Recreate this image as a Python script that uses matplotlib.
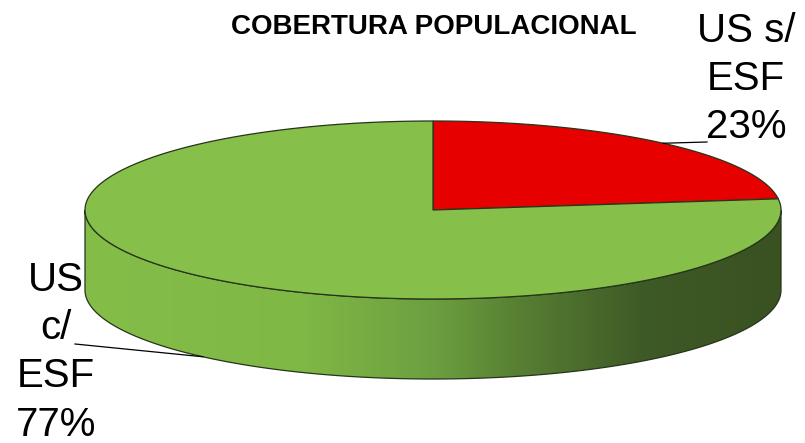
import numpy as np
import matplotlib.pyplot as plt
from matplotlib.patches import Polygon
from matplotlib.colors import LinearSegmentedColormap

# dados
titulo = "COBERTURA POPULACIONAL"
rotulos = ["US s/\nESF", "US\nc/\nESF"]
valores = [23, 77]
cores = ["#E60000", "#86BF4A"]

# geometria da pizza 3D (pixels)
cx, cy = 433, 210
rx, ry = 348, 89
prof = 80

fig = plt.figure(figsize=(8.05, 4.43), dpi=100)
ax = fig.add_axes([0, 0, 1, 1])
ax.set_xlim(0, 805)
ax.set_ylim(443, 0)
ax.axis('off')


def ponto(theta, dz=0):
    t = np.radians(theta)
    return cx + rx * np.cos(t), cy - ry * np.sin(t) + dz


# lateral com degrade
th = np.linspace(180, 360, 300)
xs, ys = ponto(th)
xb, yb = ponto(th[::-1], prof)
lado = Polygon(np.column_stack([np.r_[xs, xb], np.r_[ys, yb]]), closed=True,
               facecolor='none', edgecolor='#26351a', lw=0.9, zorder=3)
ax.add_patch(lado)
cmap = LinearSegmentedColormap.from_list('lado', [
    (0.0, '#85BD49'), (0.31, '#80B846'), (0.5, '#6C9F3F'),
    (0.625, '#577F33'), (0.8, '#3E5A26'), (1.0, '#3A5121')])
grad = np.linspace(0, 1, 512).reshape(1, -1)
im = ax.imshow(grad, cmap=cmap, extent=[cx - rx, cx + rx, cy + ry + prof + 2, cy - 2],
               aspect='auto', zorder=2, interpolation='bilinear')
im.set_clip_path(lado)

# fatias do topo (sentido horario a partir de 90 graus)
total = sum(valores)
inicio = 90.0
meios = []
for v, c in zip(valores, cores):
    fim = inicio - 360.0 * v / total
    arco = np.linspace(inicio, fim, 300)
    ax_, ay_ = ponto(arco)
    poly = Polygon(np.column_stack([np.r_[cx, ax_], np.r_[cy, ay_]]), closed=True,
                   facecolor=c, edgecolor='#26351a', lw=0.9, zorder=4)
    ax.add_patch(poly)
    meios.append((inicio + fim) / 2)
    inicio = fim

fonte = ['Liberation Sans', 'DejaVu Sans']

# rotulo direito
x0, y0 = ponto(meios[0])
ax.plot([x0, 707], [y0, 142], color='black', lw=0.9, zorder=5)
ax.text(746, 12, f"{rotulos[0]}\n{valores[0]}%", ha='center', va='top',
        fontsize=29, family=fonte, linespacing=1.34)

# rotulo esquerdo
x1, y1 = ponto(meios[1], prof)
ax.plot([75, x1], [344, y1], color='black', lw=0.9, zorder=5)
ax.text(56, 261, f"{rotulos[1]}\n{valores[1]}%", ha='center', va='top',
        fontsize=29, family=fonte, linespacing=1.34)

ax.text(434, 27, titulo, ha='center', va='center', fontsize=20,
        fontweight='bold', family=fonte)

fig.savefig('out.png', dpi=100, facecolor='white')
